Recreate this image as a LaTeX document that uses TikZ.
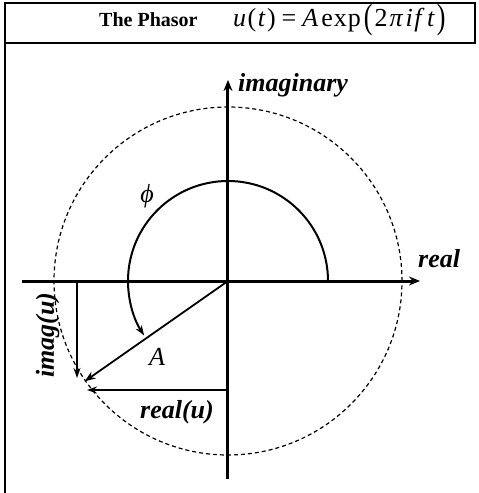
\documentclass[tikz,border=0pt]{standalone}
\usepackage{fontspec}
\setmainfont{Liberation Serif}
\usetikzlibrary{arrows.meta}

\tikzset{
  frameline/.style={line width=1.6pt},
  axisline/.style={line width=3pt, -{Stealth[length=11pt,width=9pt]}},
  vecline/.style={line width=1.8pt, -{Stealth[length=11pt,width=8pt]}},
  projline/.style={line width=1.3pt, -{Stealth[length=10pt,width=7pt]}},
  unitcircle/.style={line width=1.2pt, dash pattern=on 4pt off 3pt},
  lbl/.style={inner sep=0pt, font=\fontsize{26}{26}\selectfont\bfseries\itshape},
  headtxt/.style={inner sep=0pt, font=\fontsize{20}{20}\selectfont}
}
\newcommand{\bigpar}[1]{\raisebox{-2pt}{\scalebox{1}[1.35]{#1}}}

\begin{document}
\begin{tikzpicture}[x=1pt, y=1pt]
  \useasboundingbox (-228,-212) rectangle (251,281);

  % frame
  \coordinate (tl) at (-223,278);
  \coordinate (tr) at (247,278);
  \coordinate (hl) at (-223,238);
  \coordinate (hr) at (247,238);
  \coordinate (bl) at (-223,-212);
  \draw[frameline] (bl) -- (tl) -- (tr) -- (hr) -- (hl);

  % title
  \node[headtxt, anchor=base west] (title) at (-129,254) {\bfseries The Phasor};
  \node[headtxt, anchor=base west] (formula) at (5,254)
    {\fontsize{26}{26}\selectfont\textit{u}\kern1.5pt(\kern1.5pt\textit{t}\kern1.5pt)\kern6pt=\kern6pt\textit{A}\kern3pt e\kern1pt x\kern1pt p\kern3pt\bigpar{(}\kern2pt 2\kern2pt\textit{π}\kern2.5pt\textit{i}\kern1.5pt\textit{f}\kern2.5pt\textit{t}\kern2pt\bigpar{)}};

  % axes
  \coordinate (O) at (0,0);
  \coordinate (xl) at (-206,0);
  \coordinate (xr) at (192,0);
  \coordinate (yb) at (0,-198);
  \coordinate (yt) at (0,201);
  \draw[unitcircle] (O) circle[radius=174];
  \draw[axisline] (xl) -- (xr);
  \draw[axisline] (yb) -- (yt);

  % angle and phasor
  \coordinate (a0) at (0:100);
  \coordinate (tip) at (215:175);
  \draw[line width=2pt, -{Stealth[length=10pt,width=7pt]}] (a0) arc[start angle=0, end angle=213, radius=100];
  \draw[vecline] (O) -- (tip);

  % projections
  \coordinate (im0) at (-151,0);
  \coordinate (im1) at (-151,-97);
  \coordinate (re0) at (0,-109);
  \coordinate (re1) at (-141,-109);
  \draw[projline] (im0) -- (im1);
  \draw[projline] (re0) -- (re1);

  % labels
  \node[lbl, anchor=base west] (imaglbl) at (10,189) {imaginary};
  \node[lbl, anchor=base west] (reallbl) at (190,14) {real};
  \node[lbl, anchor=base west] (reulbl) at (-88,-137) {real(u)};
  \node[lbl, anchor=base west, rotate=90] (imulbl) at (-174,-97) {imag(u)};
  \node[inner sep=0pt, font=\fontsize{26}{26}\selectfont\itshape] (Albl) at (-71,-76) {A};
  \node[inner sep=0pt, font=\fontsize{26}{26}\selectfont\itshape] (philbl) at (-81,85) {ϕ};
\end{tikzpicture}
\end{document}
